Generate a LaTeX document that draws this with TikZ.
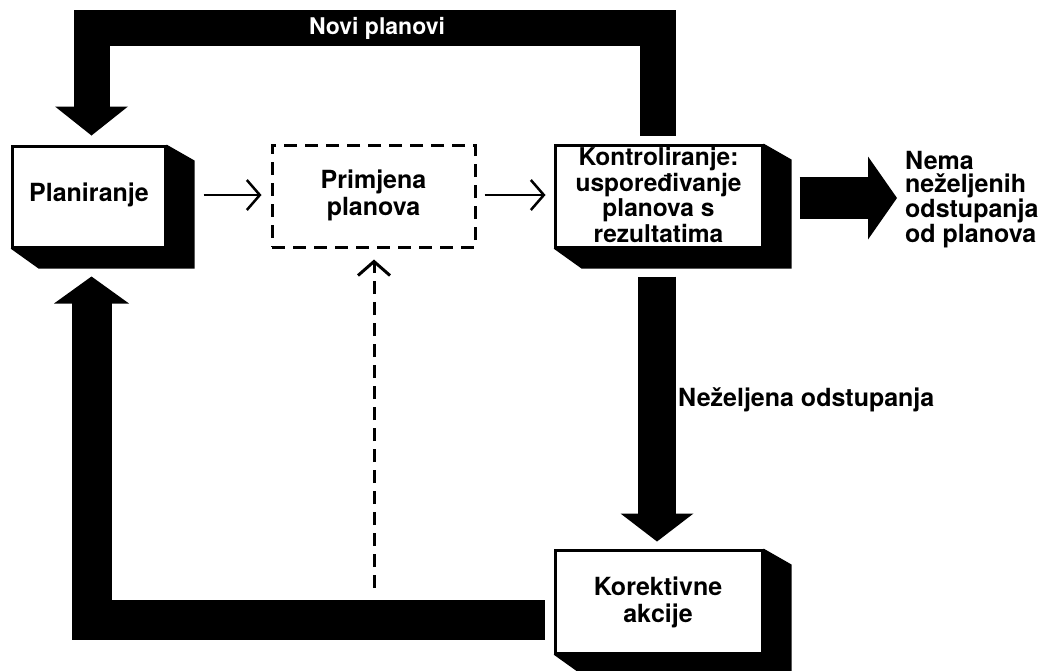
\documentclass[tikz,border=0pt]{standalone}
\usepackage{fontspec}
\setmainfont{TeX Gyre Heros}
\usetikzlibrary{arrows.meta,calc}
\begin{document}
\begin{tikzpicture}[x=1pt,y=-1pt,
  lbl/.style={font=\bfseries\fontsize{25}{27}\selectfont, align=center, inner sep=0pt},
  box/.style={draw, line width=3pt, fill=white, inner sep=0pt},
  dbox/.style={draw, line width=3pt, dash pattern=on 13pt off 8pt, inner sep=0pt},
  thinarrow/.style={line width=2.5pt, -{Straight Barb[length=13pt,width=30pt]}},
  dasharrow/.style={line width=3pt, dash pattern=on 13pt off 8pt, -{Straight Barb[length=14pt,width=32pt]}},
  shaft/.style={line width=#1, line join=miter, draw=black},
  pics/bighead/.style n args={2}{code={\fill (0,0) -- (-#1,-#2/2) -- (-#1,#2/2) -- cycle;}}
]
\useasboundingbox (0,0) rectangle (1042,670);

% boxes
\node[box, minimum width=153pt, minimum height=101pt] (plan) at (88.5,196.5) {};
\node[dbox, minimum width=203pt, minimum height=102pt] (prim) at (373.5,196) {};
\node[box, minimum width=207pt, minimum height=102pt] (kon) at (658.5,196) {};
\node[box, minimum width=207pt, minimum height=103pt] (kor) at (658.5,601.5) {};

% 3D shadows
\foreach \n in {plan,kon,kor}{
  \fill (\n.north east) -- ++(28,16) -- ($(\n.south east)+(28,20)$) -- ($(\n.south west)+(28,20)$) -- (\n.south west) -- (\n.south east) -- cycle;
}

% texts
\node[lbl] (plant) at (89,195) {Planiranje};
\node[lbl] (primt) at (373.5,195) {Primjena\\planova};
\node[lbl, font=\bfseries\fontsize{24.5}{25.5}\selectfont] (kont) at (658.5,195) {Kontroliranje:\\uspoređivanje\\planova s\\rezultatima};
\node[lbl] (kort) at (658,602) {Korektivne\\akcije};
\node[lbl, align=left, anchor=west, font=\bfseries\fontsize{25}{23}\selectfont] (nema) at (905,199.5) {Nema\\neželjenih\\odstupanja\\od planova};
\node[lbl, anchor=west] (nez) at (678,400) {Neželjena odstupanja};

% thin arrows
\draw[thinarrow] ($(plan.east)+(37,-1.5)$) -- ($(prim.west)+(-9,-1)$);
\draw[thinarrow] ($(prim.east)+(8,-1)$) -- ($(kon.west)+(-8,-1)$);

% dashed arrow from corrective loop
\coordinate (dstart) at (374,588);
\draw[dasharrow] (dstart) -- ($(prim.south)+(0.5,11)$);

% top loop: Novi planovi
\coordinate (ttip) at ($(plan.north)+(3,-9)$);
\draw[shaft=36pt] ($(kon.north)+(-1,-8)$) -- ++(0,-108) -| ($(ttip)+(0,-28)$);
\pic[rotate=-90] at (ttip) {bighead={29}{73}};
\node[lbl, text=white, font=\bfseries\fontsize{23}{25}\selectfont] (novi) at (377,28) {Novi planovi};

% bottom loop: corrective actions back to planning
\coordinate (btip) at ($(plan.south)+(3,28)$);
\draw[shaft=40pt] ($(kor.west)+(-9,18.5)$) -| ($(btip)+(0,26)$);
\pic[rotate=90] at (btip) {bighead={27}{75}};

% down arrow to corrective actions
\coordinate (dtip) at ($(kor.north)+(-1.5,-7)$);
\draw[shaft=38pt] ($(kon.south)+(-1.5,28)$) -- ($(dtip)+(0,-27)$);
\pic[rotate=-90] at (dtip) {bighead={28}{73}};

% right arrow to "Nema..."
\coordinate (rtip) at ($(nema.west)+(-8,-1.5)$);
\draw[shaft=42pt] ($(kon.east)+(36,2)$) -- ($(rtip)+(-28,0)$);
\pic at (rtip) {bighead={29}{83}};
\end{tikzpicture}
\end{document}
